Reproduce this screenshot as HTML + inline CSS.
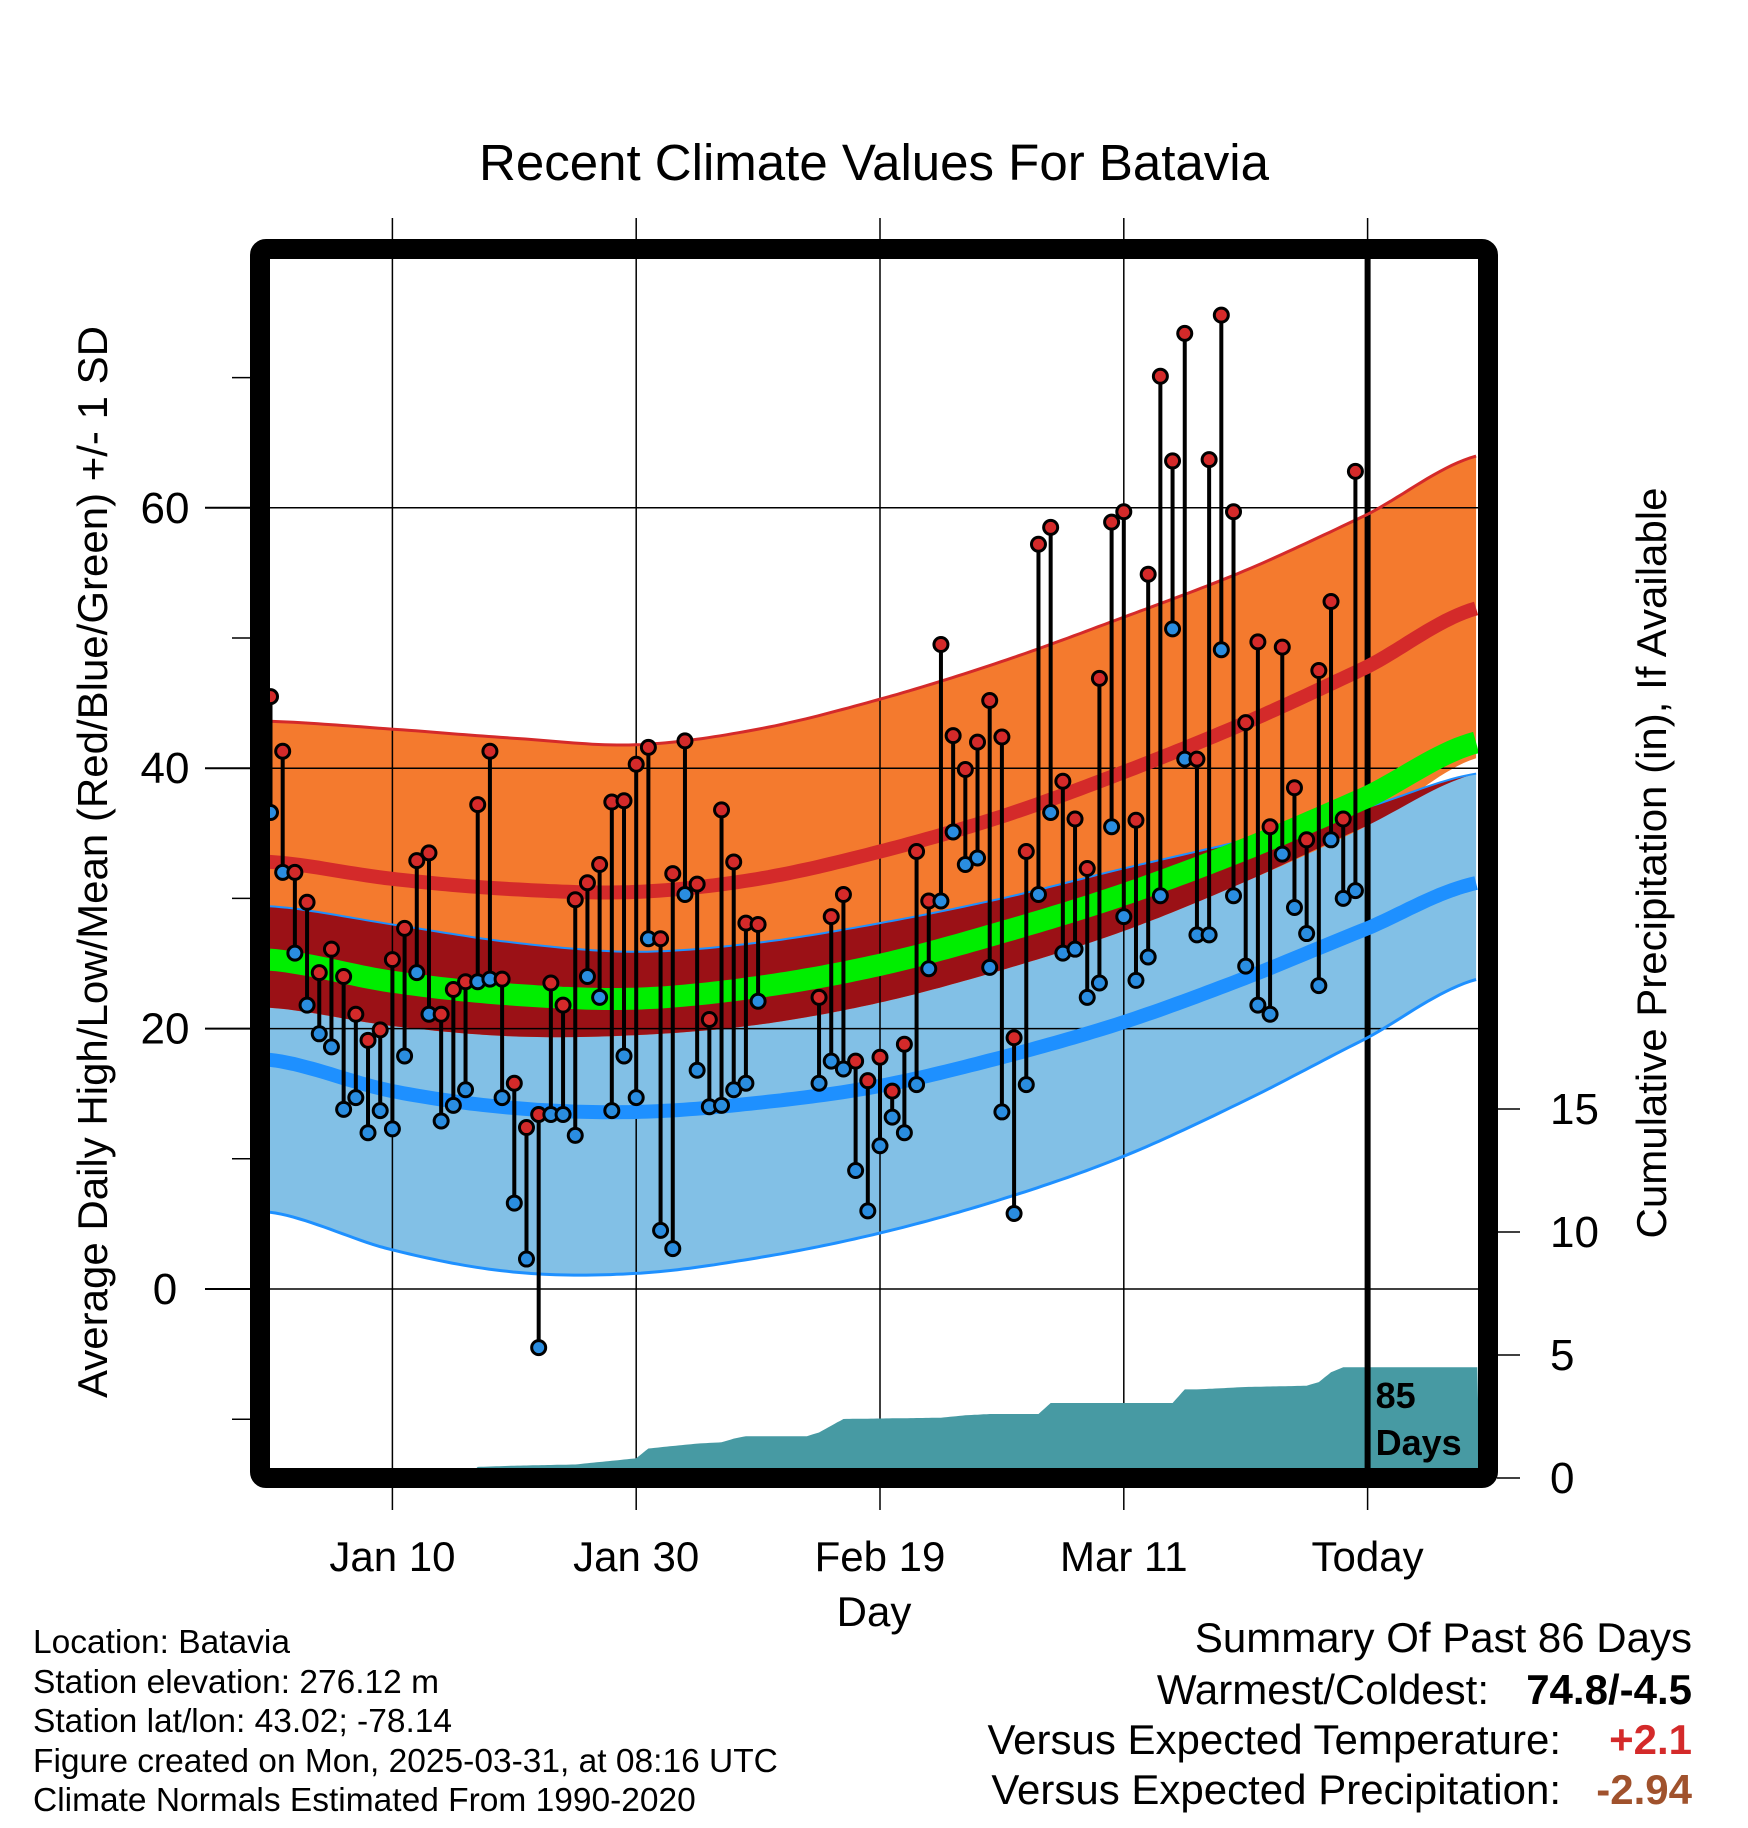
<!DOCTYPE html>
<html><head><meta charset="utf-8">
<style>
html,body{margin:0;padding:0;background:#fff;}
svg{display:block;font-family:"Liberation Sans",Arial,sans-serif;}
</style></head>
<body>
<svg id="chart" width="1748" height="1828" viewBox="0 0 1748 1828" xmlns="http://www.w3.org/2000/svg">
<g id="bands"></g>
<g id="grid"></g>
<g id="precip"></g>
<g id="lines"></g>
<g id="stems"></g>
<g id="frame"></g>
<g id="axes"></g>
</svg>
<script>
// ---- data ----
const dayIdxNormals = [0,10,20,30,40,50,60,70,80,90,99];
const normHighPlusSD = [43.6,43.0,42.3,41.8,43.0,45.3,48.2,51.6,55.2,59.5,64.0];
const normHigh = [32.8,31.5,30.7,30.5,31.5,33.6,36.3,39.7,43.5,47.8,52.3];
const normHighMinusSD = [21.6,20.2,19.4,19.5,20.3,22.0,24.5,27.5,31.3,35.6,40.8];
const normLowPlusSD = [29.4,28.0,26.6,25.9,26.6,28.1,30.0,32.3,34.5,37.0,39.6];
const normMean = [25.3,23.6,22.6,22.3,23.2,24.9,27.4,30.3,33.8,37.8,42.0];
const normLow = [17.6,15.2,13.9,13.6,14.3,15.6,17.8,20.5,23.9,27.7,31.2];
const normLowMinusSD = [5.9,3.0,1.3,1.2,2.4,4.3,6.9,10.2,14.5,19.3,23.8];

const dailyHigh = [45.5,41.3,32,29.7,24.3,26.1,24,21.1,19.1,19.9,25.3,27.7,32.9,33.5,21.1,23,23.6,37.2,41.3,23.8,
15.8,12.4,13.4,23.5,21.8,29.9,31.2,32.6,37.4,37.5,40.3,41.6,26.9,31.9,42.1,31.1,20.7,36.8,32.8,28.1,
28,null,null,null,null,22.4,28.6,30.3,17.5,16,17.8,15.2,18.8,33.6,29.8,49.5,42.5,39.9,42,45.2,
42.4,19.3,33.6,57.2,58.5,39,36.1,32.3,46.9,58.9,59.7,36,54.9,70.1,63.6,73.4,40.7,63.7,74.8,59.7,
43.5,49.7,35.5,49.3,38.5,34.5,47.5,52.8,36.1,62.8];
const dailyLow = [36.6,32,25.8,21.8,19.6,18.6,13.8,14.7,12,13.7,12.3,17.9,24.3,21.1,12.9,14.1,15.3,23.6,23.8,14.7,
6.6,2.3,-4.5,13.4,13.4,11.8,24,22.4,13.7,17.9,14.7,26.9,4.5,3.1,30.3,16.8,14,14.1,15.3,15.8,
22.1,null,null,null,null,15.8,17.5,16.9,9.1,6,11,13.2,12,15.7,24.6,29.8,35.1,32.6,33.1,24.7,
13.6,5.8,15.7,30.3,36.6,25.8,26.1,22.4,23.5,35.5,28.6,23.7,25.5,30.2,50.7,40.7,27.2,27.2,49.1,30.2,
24.8,21.8,21.1,33.4,29.3,27.3,23.3,34.5,30,30.6];

const precipDays = [0,16,17,20,25,30,31,33,35,37,38,39,44,45,47,55,57,59,63,64,74,75,76,80,85,86,87,88,99];
const precipCum = [0,0,0.45,0.5,0.55,0.8,1.2,1.3,1.4,1.45,1.6,1.7,1.7,1.85,2.4,2.45,2.55,2.6,2.6,3.05,3.05,3.6,3.6,3.7,3.75,3.9,4.3,4.5,4.5];

const yTicks = [0,20,40,60];
const yMinor = [-10,10,30,50,70];
const pTicks = [0,5,10,15];
const xTickDays = [10,30,50,70,90];
const xTickLabels = ["Jan 10","Jan 30","Feb 19","Mar 11","Today"];

// ---- scales ----
const L=270, R=1478, T=259, B=1468;
function X(i){return 270.5 + i*12.19;}
function Y(v){return 1289 - v*13.02;}
function P(p){return 1478 - p*24.6;}
const NS="http://www.w3.org/2000/svg";
function mk(tag,attrs,parent){const e=document.createElementNS(NS,tag);for(const k in attrs)e.setAttribute(k,attrs[k]);parent.appendChild(e);return e;}
function interp(xs,ys,x){for(let k=0;k<xs.length-1;k++){if(x<=xs[k+1]){const t=(x-xs[k])/(xs[k+1]-xs[k]);return ys[k]+t*(ys[k+1]-ys[k]);}}return ys[ys.length-1];}
function smooth(xs,ys,x){
  let k=0;while(k<xs.length-2&&x>xs[k+1])k++;
  const x0=xs[k],x1=xs[k+1];const t=Math.max(0,Math.min(1,(x-x0)/(x1-x0)));
  const p0=ys[Math.max(0,k-1)],p1=ys[k],p2=ys[k+1],p3=ys[Math.min(ys.length-1,k+2)];
  const t2=t*t,t3=t2*t;
  return 0.5*((2*p1)+(-p0+p2)*t+(2*p0-5*p1+4*p2-p3)*t2+(-p0+3*p1-3*p2+p3)*t3);
}
const samples=[];for(let i=-0.1;i<=99.2;i+=0.5)samples.push(i);
function curve(arr){return samples.map(i=>[X(i),Y(smooth(dayIdxNormals,arr,i))]);}
function ptsStr(a){return a.map(p=>p[0].toFixed(1)+","+p[1].toFixed(1)).join(" ");}
function band(up,lo){return ptsStr(curve(up).concat(curve(lo).reverse()));}

const bands=document.getElementById('bands');
let e;
e=mk('rect',{x:L,y:T,width:R-L,height:B-T,fill:'#fff'},bands);

e=mk('polygon',{points:band(normLowPlusSD,normLowMinusSD),fill:'#82c0e6'},bands);

e=mk('polygon',{points:band(normHighPlusSD,normHighMinusSD),fill:'#f47a2e'},bands);

const ovUp=normLowPlusSD.map(v=>v), ovLo=normHighMinusSD.map((v,k)=>Math.min(v,normLowPlusSD[k]));
e=mk('polygon',{points:band(ovUp,ovLo),fill:'#9b1116'},bands);


const lines=document.getElementById('lines');
e=mk('polyline',{points:ptsStr(curve(normHighPlusSD)),fill:'none',stroke:'#d42a2a',"stroke-width":3},lines);

e=mk('polyline',{points:ptsStr(curve(normLowPlusSD)),fill:'none',stroke:'#1e90ff',"stroke-width":2},lines);

e=mk('polyline',{points:ptsStr(curve(normLowMinusSD)),fill:'none',stroke:'#1e90ff',"stroke-width":3},lines);

e=mk('polyline',{points:ptsStr(curve(normHigh)),fill:'none',stroke:'#d42a2a',"stroke-width":14},lines);

e=mk('polyline',{points:ptsStr(curve(normMean)),fill:'none',stroke:'#00ee00',"stroke-width":22},lines);

e=mk('polyline',{points:ptsStr(curve(normLow)),fill:'none',stroke:'#1e90ff',"stroke-width":14},lines);


const grid=document.getElementById('grid');
yTicks.forEach(v=>{e=mk('line',{x1:L,x2:R,y1:Y(v),y2:Y(v),stroke:'#000',"stroke-width":1.5},grid);
});
xTickDays.forEach(d=>{e=mk('line',{x1:X(d),x2:X(d),y1:218,y2:B,stroke:'#000',"stroke-width":1.5},grid);
});

const pg=document.getElementById('precip');
let pp=[];for(let i=0;i<=99;i+=0.25){pp.push([X(i),P(interp(precipDays,precipCum,i))]);}
pp.push([X(99.2),P(0)]);pp.push([X(-0.1),P(0)]);
e=mk('polygon',{points:ptsStr(pp),fill:'#479aa3'},pg);

e=mk('line',{x1:X(90),x2:X(90),y1:T,y2:B,stroke:'#000',"stroke-width":6},pg);

e=mk('text',{x:X(90)+8,y:1408,"font-size":36,"font-weight":"bold",fill:'#000'},pg);e.textContent='85';

e=mk('text',{x:X(90)+8,y:1455,"font-size":36,"font-weight":"bold",fill:'#000'},pg);e.textContent='Days';


const sg=document.getElementById('stems');
dailyHigh.forEach((h,i)=>{const l=dailyLow[i];if(h==null||l==null)return;
 e=mk('line',{x1:X(i),x2:X(i),y1:Y(h),y2:Y(l),stroke:'#000',"stroke-width":4},sg);
 });
dailyHigh.forEach((h,i)=>{const l=dailyLow[i];if(h==null||l==null)return;
 e=mk('circle',{cx:X(i),cy:Y(l),r:7,fill:'#2a8de0',stroke:'#000',"stroke-width":3},sg);
 
 e=mk('circle',{cx:X(i),cy:Y(h),r:7,fill:'#d42a2a',stroke:'#000',"stroke-width":3},sg);
 });

const fr=document.getElementById('frame');
e=mk('rect',{x:260,y:249,width:1228,height:1229,rx:6,fill:'none',stroke:'#000',"stroke-width":20},fr);


const ax=document.getElementById('axes');
yTicks.forEach(v=>{e=mk('line',{x1:205,x2:250,y1:Y(v),y2:Y(v),stroke:'#000',"stroke-width":2},ax);

e=mk('text',{x:165,y:Y(v)+15,"font-size":44,"text-anchor":"middle"},ax);e.textContent=String(v);
});
yMinor.forEach(v=>{e=mk('line',{x1:232,x2:250,y1:Y(v),y2:Y(v),stroke:'#000',"stroke-width":1.5},ax);
});
pTicks.forEach(p=>{e=mk('line',{x1:1497,x2:1520,y1:P(p),y2:P(p),stroke:'#000',"stroke-width":1.5},ax);

e=mk('text',{x:1550,y:P(p)+15,"font-size":44},ax);e.textContent=String(p);
});
xTickDays.forEach((d,k)=>{e=mk('line',{x1:X(d),x2:X(d),y1:1488,y2:1510,stroke:'#000',"stroke-width":1.5},ax);

e=mk('text',{x:X(d),y:1571,"font-size":42,"text-anchor":"middle"},ax);e.textContent=xTickLabels[k];
});
</script>
<div style="position:absolute;left:0;top:0;width:1748px;height:1828px;pointer-events:none;font-family:'Liberation Sans',Arial,sans-serif;">
<div style="position:absolute;left:0;width:1748px;top:133px;text-align:center;font-size:51px;">Recent Climate Values For Batavia</div>
<div style="position:absolute;left:93px;top:862px;transform:translate(-50%,-50%) rotate(-90deg);white-space:nowrap;font-size:42px;">Average Daily High/Low/Mean (Red/Blue/Green) +/- 1 SD</div>
<div style="position:absolute;left:1652px;top:863px;transform:translate(-50%,-50%) rotate(-90deg);white-space:nowrap;font-size:42px;">Cumulative Precipitation (in), If Available</div>
<div style="position:absolute;left:0;width:1748px;top:1588px;text-align:center;font-size:42px;">Day</div>
<div style="position:absolute;left:33px;top:1623px;font-size:33.5px;line-height:39.5px;white-space:nowrap;">Location: Batavia<br>Station elevation: 276.12 m<br>Station lat/lon: 43.02; -78.14<br>Figure created on Mon, 2025-03-31, at 08:16 UTC<br>Climate Normals Estimated From 1990-2020</div>
<div style="position:absolute;right:56px;top:1614px;font-size:42px;white-space:nowrap;">Summary Of Past 86 Days</div>
<div style="position:absolute;right:259px;top:1666px;font-size:42px;white-space:nowrap;">Warmest/Coldest:</div>
<div style="position:absolute;right:56px;top:1666px;font-size:42px;font-weight:bold;white-space:nowrap;">74.8/-4.5</div>
<div style="position:absolute;right:187px;top:1716px;font-size:42px;white-space:nowrap;">Versus Expected Temperature:</div>
<div style="position:absolute;right:56px;top:1716px;font-size:42px;font-weight:bold;color:#d42a2a;white-space:nowrap;">+2.1</div>
<div style="position:absolute;right:187px;top:1766px;font-size:42px;white-space:nowrap;">Versus Expected Precipitation:</div>
<div style="position:absolute;right:56px;top:1766px;font-size:42px;font-weight:bold;color:#a0522d;white-space:nowrap;">-2.94</div>
</div>
</body></html>
